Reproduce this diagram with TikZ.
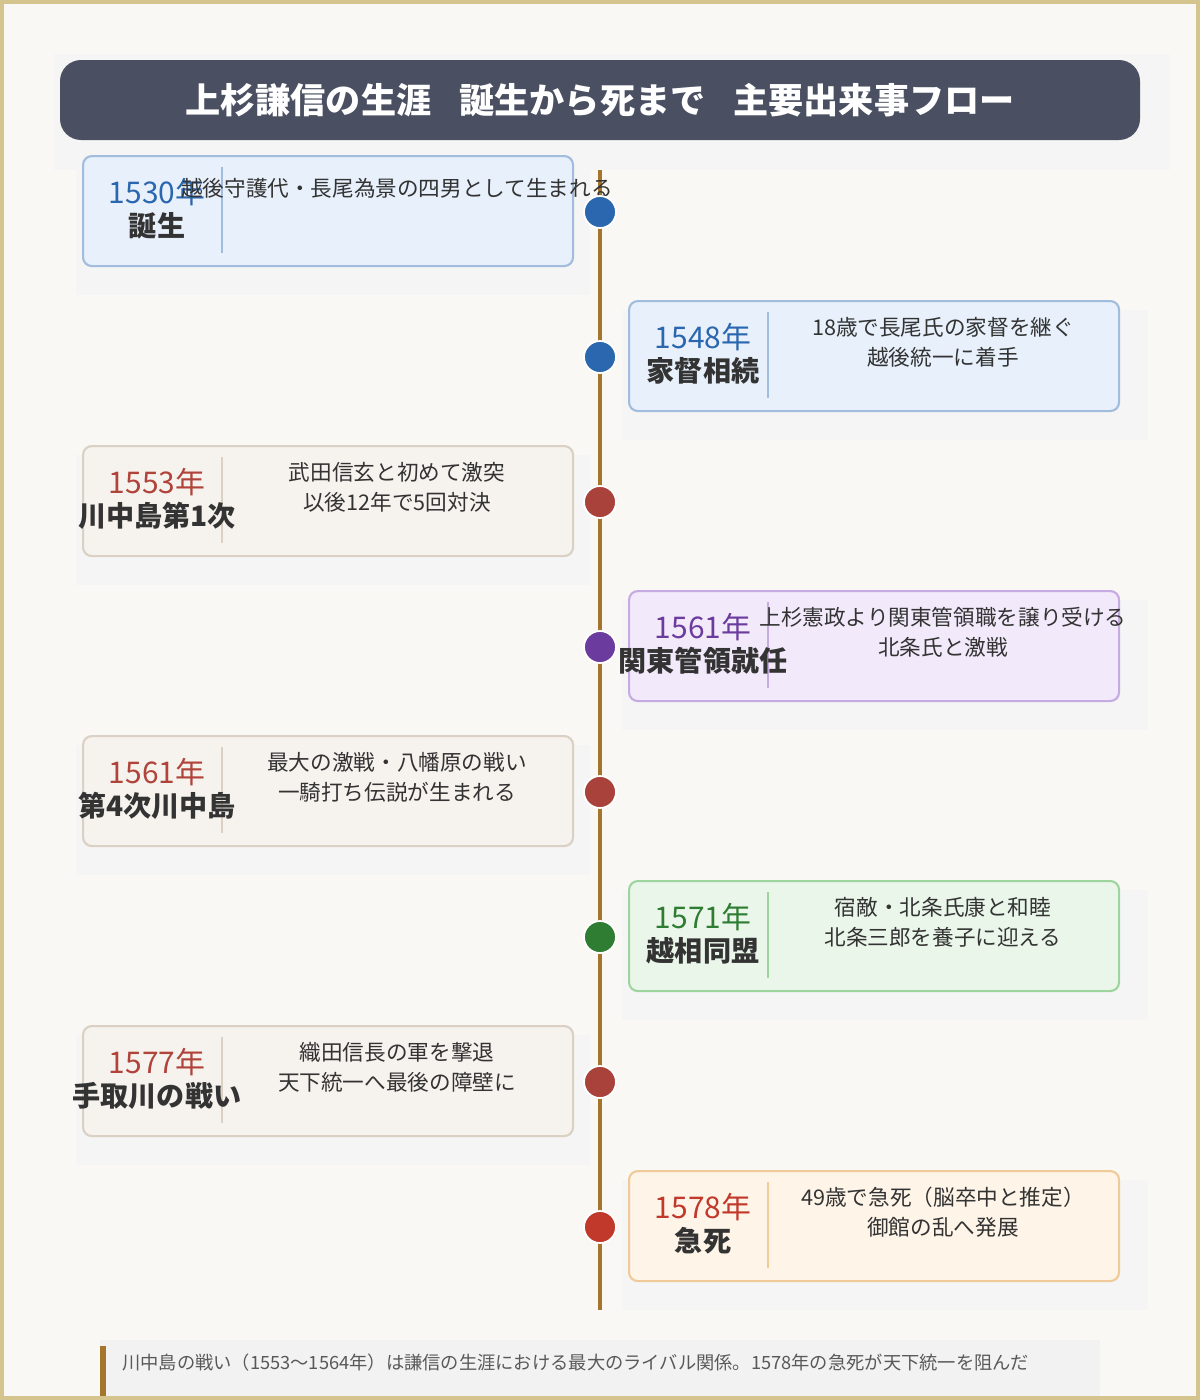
\documentclass[tikz,border=0pt]{standalone}
\usepackage{fontspec}
\setmainfont{Noto Sans CJK JP}
\usetikzlibrary{positioning, calc}
\definecolor{bgpaper}{HTML}{FAF8F4}
\definecolor{frame}{HTML}{D6C48E}
\definecolor{titlebar}{HTML}{4A5062}
\definecolor{axis}{HTML}{A5752C}
\definecolor{blueY}{HTML}{2A67AE}\definecolor{blueF}{HTML}{E7F0FB}\definecolor{blueB}{HTML}{A2BCDD}
\definecolor{redY}{HTML}{B0433A}\definecolor{begF}{HTML}{F6F2ED}\definecolor{begB}{HTML}{DAD0C4}\definecolor{redD}{HTML}{A8423A}
\definecolor{purY}{HTML}{6B3C9E}\definecolor{purF}{HTML}{F2E9FA}\definecolor{purB}{HTML}{C6AAE2}
\definecolor{grnY}{HTML}{2E7D32}\definecolor{grnF}{HTML}{EAF6EA}\definecolor{grnB}{HTML}{9ED59F}
\definecolor{orgY}{HTML}{C0392B}\definecolor{orgF}{HTML}{FEF4E8}\definecolor{orgB}{HTML}{F0CA98}
\definecolor{txt}{HTML}{333333}
\tikzset{
  cardbox/.style={draw=#1, line width=1.2pt, rounded corners=5pt, minimum width=490*0.02cm, minimum height=110*0.02cm},
  yeartext/.style={text=#1, font=\fontsize{17}{19}\selectfont},
  headtext/.style={text=txt, font=\fontsize{16}{18}\selectfont\bfseries},
  desctext/.style={text=txt, font=\fontsize{12.3}{17}\selectfont, align=center},
  eventdot/.style={circle, fill=#1, draw=white, line width=1pt, minimum size=32*0.02cm, inner sep=0pt},
}
% one card: side x, top y, fill, border, year colour, dot colour, year, head, text
\newcommand{\eventcard}[9]{
  \node[cardbox=#4, fill=#3, anchor=north west] (card#7#2) at (#1,#2) {};
  \draw[#4, line width=0.6pt] ($(#1,#2)+(140,12)$) -- ($(#1,#2)+(140,98)$);
  \node[yeartext=#5] at ($(#1,#2)+(75,37)$) {#7};
  \node[headtext] at ($(#1,#2)+(75,71)$) {#8};
  \node[desctext] at ($(#1,#2)+(315,42)$) {#9};
  \node[eventdot=#6] (dot#7#2) at (600,#2+57) {};
}
\begin{document}
\begin{tikzpicture}[x=0.02cm, y=-0.02cm]
\fill[frame] (0,0) rectangle (1200,1400);
\fill[bgpaper] (4,4) rectangle (1196,1396);
\useasboundingbox (0,0) rectangle (1200,1400);
% title
\fill[black!4] (54,54) rectangle (1170,170);
\node[fill=titlebar, rounded corners=12pt, minimum width=1080*0.02cm, minimum height=80*0.02cm,
  text=white, font=\fontsize{20}{22}\selectfont\bfseries] (title) at (600,100)
  {上杉謙信の生涯\hspace{0.8em}誕生から死まで\hspace{0.8em}主要出来事フロー};
% shadows
\foreach \t in {155,445,735,1025} \fill[black!4] (76,\t+10) rectangle (590,\t+140);
\foreach \t in {300,590,880,1170} \fill[black!4] (622,\t+10) rectangle (1148,\t+140);
% axis
\draw[axis, line width=2.8pt] (600,170) -- (600,1310);
\eventcard{82}{155}{blueF}{blueB}{blueY}{blueY}{1530年}{誕生}{\raisebox{0.9em}{越後守護代・長尾為景の四男として生まれる}}
\eventcard{628}{300}{blueF}{blueB}{blueY}{blueY}{1548年}{家督相続}{18歳で長尾氏の家督を継ぐ\\越後統一に着手}
\eventcard{82}{445}{begF}{begB}{redY}{redD}{1553年}{川中島第1次}{武田信玄と初めて激突\\以後12年で5回対決}
\eventcard{628}{590}{purF}{purB}{purY}{purY}{1561年}{関東管領就任}{上杉憲政より関東管領職を譲り受ける\\北条氏と激戦}
\eventcard{82}{735}{begF}{begB}{redY}{redD}{1561年}{第4次川中島}{最大の激戦・八幡原の戦い\\一騎打ち伝説が生まれる}
\eventcard{628}{880}{grnF}{grnB}{grnY}{grnY}{1571年}{越相同盟}{宿敵・北条氏康と和睦\\北条三郎を養子に迎える}
\eventcard{82}{1025}{begF}{begB}{redY}{redD}{1577年}{手取川の戦い}{織田信長の軍を撃退\\天下統一へ最後の障壁に}
\eventcard{628}{1170}{orgF}{orgB}{orgY}{orgY}{1578年}{急死}{49歳で急死（脳卒中と推定）\\御館の乱へ発展}
% footer
\fill[black!5] (100,1340) rectangle (1100,1396);
\fill[axis] (100,1346) rectangle (106,1396);
\node[anchor=west, text=black!65, font=\fontsize{10.4}{12}\selectfont] (note) at (116,1363)
  {川中島の戦い（1553〜1564年）は謙信の生涯における最大のライバル関係。1578年の急死が天下統一を阻んだ};
\end{tikzpicture}
\end{document}
